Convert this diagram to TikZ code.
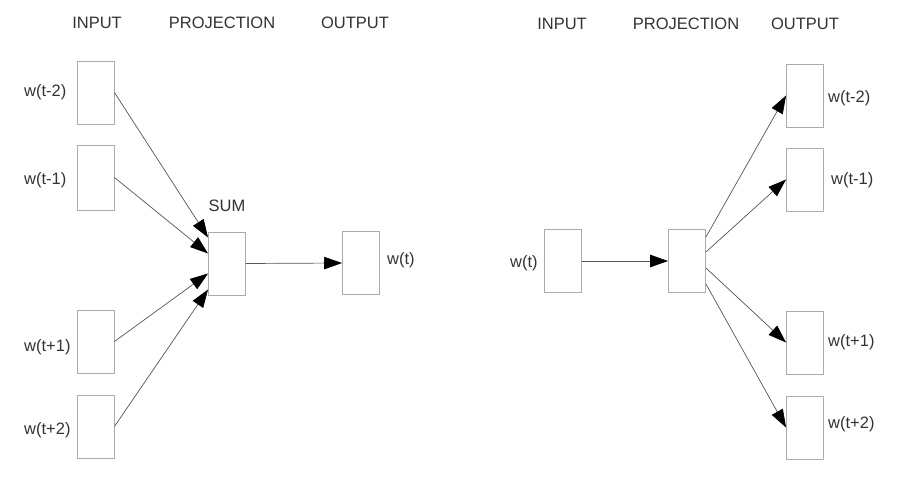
\documentclass[tikz,border=0pt]{standalone}
\usepackage{fontspec}
\setmainfont{Liberation Sans}
\usetikzlibrary{arrows.meta,calc}
\definecolor{txt}{HTML}{333333}
\definecolor{boxc}{HTML}{ABABAB}
\definecolor{linec}{HTML}{555555}
\tikzset{
  wbox/.style={draw=boxc,line width=0.9pt,minimum width=37pt,minimum height=63pt,inner sep=0pt},
  lbl/.style={text=txt,font=\fontsize{16.5}{18}\selectfont,inner sep=0pt},
  conn/.style={draw=linec,line width=0.7pt,-{Triangle[length=18pt,width=12.5pt,color=black]}},
}
\begin{document}
\begin{tikzpicture}[x=1pt,y=-1pt]
\useasboundingbox[fill=white] (0,0) rectangle (913,484);
% ---------- left diagram (CBOW) ----------
\node[lbl] (hin1) at (97,23) {INPUT};
\node[lbl] (hpr1) at (222,23) {PROJECTION};
\node[lbl] (hout1) at (355,23) {OUTPUT};
\node[wbox] (i1) at (95.5,92.5) {};
\node[wbox,minimum height=65pt] (i2) at (95.5,177.5) {};
\node[wbox] (i3) at (95.5,341.5) {};
\node[wbox] (i4) at (95.5,426.5) {};
\node[lbl,anchor=west] (li1) at (24,92) {w(t-2)};
\node[lbl,anchor=west] (li2) at (24,180) {w(t-1)};
\node[lbl,anchor=west] (li3) at (24,347) {w(t+1)};
\node[lbl,anchor=west] (li4) at (24,430) {w(t+2)};
\node[wbox] (sum) at (227,263.5) {};
\node[lbl] (lsum) at (227,206) {SUM};
\node[wbox] (o1) at (361,263) {};
\node[lbl,anchor=west] (lo1) at (387,260) {w(t)};
\draw[conn] (i1.east) -- ([yshift=26pt]sum.west);
\draw[conn] (i2.east) -- ([yshift=10pt]sum.west);
\draw[conn] (i3.east) -- ([yshift=-10pt]sum.west);
\draw[conn] (i4.east) -- ([yshift=-26pt]sum.west);
\draw[conn] (sum.east) -- (o1.west);
% ---------- right diagram (Skip-gram) ----------
\node[lbl] (hin2) at (562,24) {INPUT};
\node[lbl] (hpr2) at (686,24) {PROJECTION};
\node[lbl] (hout2) at (805,24) {OUTPUT};
\node[wbox] (win) at (563,261) {};
\node[lbl,anchor=west] (lwin) at (510,263) {w(t)};
\node[wbox] (proj) at (687,261) {};
\node[wbox] (r1) at (805,95.5) {};
\node[wbox] (r2) at (805,179.5) {};
\node[wbox] (r3) at (805,342.5) {};
\node[wbox] (r4) at (805,427.5) {};
\node[lbl,anchor=west] (lr1) at (828,98) {w(t-2)};
\node[lbl,anchor=west] (lr2) at (831,180) {w(t-1)};
\node[lbl,anchor=west] (lr3) at (828,342) {w(t+1)};
\node[lbl,anchor=west] (lr4) at (828,424) {w(t+2)};
\draw[conn,line width=0.9pt] (win.east) -- (proj.west);
\draw[conn] ([yshift=24pt]proj.east) -- (r1.west);
\draw[conn] ([yshift=9pt]proj.east) -- (r2.west);
\draw[conn] ([yshift=-7pt]proj.east) -- (r3.west);
\draw[conn] ([yshift=-23pt]proj.east) -- (r4.west);
\end{tikzpicture}
\end{document}
